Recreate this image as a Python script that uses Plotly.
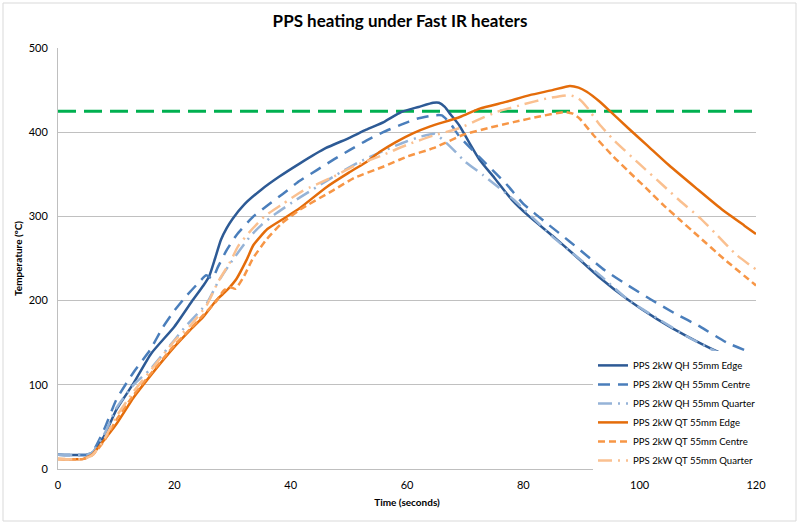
import plotly.graph_objects as go

# ---- data ----
qh_edge_t = [0, 5, 6, 8, 10, 13, 16, 20, 23, 25, 26, 27, 28, 29, 30, 32, 35, 38, 41.6, 46, 50, 53, 56, 59, 62, 64.5, 65.5, 66.5, 67.5, 69, 70.5, 72.5, 75, 78, 81, 85, 88.5, 93, 98, 103, 108, 113.5, 120]
qh_edge_v = [17, 17, 20, 40, 70, 102, 137, 169, 199, 218, 229, 250, 272, 286, 297, 314, 332, 347, 363, 381, 393, 403, 412, 424, 430, 435, 435, 430, 421, 408, 390, 367, 346, 320, 300, 277, 256, 228, 201, 178, 158, 139, 122]

qh_centre_t = [0, 5, 6, 8, 10, 13, 15.8, 18, 20, 22, 24, 25.5, 26.5, 27.5, 29, 30.7, 33.6, 36, 38.7, 41.5, 44.5, 47.5, 50.2, 53, 55.9, 59, 61.7, 64.5, 66, 67.5, 69, 72.5, 77, 80, 84, 88, 91.5, 94, 98, 102, 106, 110.4, 115, 120]
qh_centre_v = [17, 17, 21, 48, 82, 115, 141, 168, 188, 205, 220, 230, 226, 240, 260, 278, 300, 313, 327, 342, 355, 368, 379, 390, 400, 409, 416, 420, 420, 410, 395, 370, 339, 315, 292, 270, 250, 236, 218, 201, 185, 169, 150, 136]

qh_quarter_t = [0, 5, 6, 8, 10, 13, 15.8, 20, 22, 25.6, 27.5, 29.6, 33, 35, 37.6, 41, 44.5, 48, 51.9, 56, 59.9, 62.5, 64.8, 66, 68, 70, 73.1, 78.3, 81.7, 85, 89.2, 93.2, 98, 103, 108, 113, 120]
qh_quarter_v = [17, 17, 20, 42, 72, 100, 118, 153, 170, 197, 222, 244, 276, 290, 304, 320, 335, 350, 365, 378, 389, 395, 398, 392, 379, 365, 349, 320, 298, 276, 252, 230, 201, 179, 158, 140, 121]

qt_edge_t = [0, 4.4, 6, 8, 10.1, 13, 15.8, 20, 22.7, 25, 27.3, 29, 30.7, 32.4, 33.6, 36, 38.7, 41.6, 46.2, 50, 53.1, 55.4, 58, 61.1, 64, 69.1, 72.5, 77, 81.1, 85, 88, 89.5, 90.9, 93, 94.9, 98, 101.2, 105, 109.8, 114, 118, 120]
qt_edge_v = [12, 12, 18, 35, 54, 85, 110, 145, 165, 181, 201, 212, 226, 248, 266, 285, 297, 310, 335, 352, 365, 377, 388, 399, 407, 418, 428, 436, 444, 450, 455, 453, 448, 437, 425, 405, 385, 361, 333, 309, 289, 279]

qt_centre_t = [0, 4.4, 6, 8, 10, 13, 15.8, 20, 22.7, 25, 27.3, 28.5, 29.6, 30.5, 31.9, 33.5, 35.9, 38.5, 41.6, 47.3, 51, 55.9, 60, 64.5, 69.7, 74, 78.3, 83, 87.2, 88.5, 89.7, 92, 95.5, 98, 101.2, 104, 106.9, 110, 114.4, 120]
qt_centre_v = [12, 12, 17, 34, 58, 88, 112, 147, 166, 183, 200, 212, 216, 214, 228, 250, 273, 292, 308, 331, 346, 359, 371, 381, 397, 405, 412, 419, 424, 422, 416, 397, 371, 354, 333, 314, 296, 277, 250, 218]

qt_quarter_t = [0, 4.4, 6, 8, 10, 13, 15.8, 20, 22.7, 25.6, 27.5, 29.6, 31, 33, 35.5, 38.7, 42, 47.3, 51, 55.9, 60, 64.5, 69.1, 72, 75.4, 80, 84, 88, 89.5, 90.9, 93, 95.5, 100, 104, 107, 110.4, 113, 116.7, 120]
qt_quarter_v = [12, 12, 17, 36, 62, 92, 116, 152, 170, 195, 222, 246, 265, 282, 300, 315, 330, 347, 360, 373, 385, 396, 405, 414, 424, 433, 440, 444, 440, 430, 410, 391, 362, 337, 318, 298, 280, 254, 237]

target_t = [0, 120]
target_v = [425, 425]

x_ticks = [0, 20, 40, 60, 80, 100, 120]
y_ticks = [0, 100, 200, 300, 400, 500]

series = [
    ("PPS 2kW QH 55mm Edge", qh_edge_t, qh_edge_v, "#2D5A95", "solid"),
    ("PPS 2kW QH 55mm Centre", qh_centre_t, qh_centre_v, "#4A7EBB", "12px,8px"),
    ("PPS 2kW QH 55mm Quarter", qh_quarter_t, qh_quarter_v, "#95B3D7", "14px,6px,2px,6px"),
    ("PPS 2kW QT 55mm Edge", qt_edge_t, qt_edge_v, "#E46C0A", "solid"),
    ("PPS 2kW QT 55mm Centre", qt_centre_t, qt_centre_v, "#F79646", "7px,4px"),
    ("PPS 2kW QT 55mm Quarter", qt_quarter_t, qt_quarter_v, "#FAC090", "14px,6px,2px,6px"),
]

FONT = "Lato"
fig = go.Figure()

fig.add_trace(go.Scatter(x=target_t, y=target_v, mode="lines", showlegend=False,
                         line=dict(color="#00B050", width=3, dash="18px,8px"), hoverinfo="skip"))

for name, t, v, col, dash in series:
    fig.add_trace(go.Scatter(x=t, y=v, mode="lines", name=name,
                             line=dict(color=col, width=2.5, dash=dash, shape="spline", smoothing=0.5)))

fig.update_layout(
    width=800, height=525,
    margin=dict(l=58, r=44, t=48, b=56),
    paper_bgcolor="white", plot_bgcolor="white",
    font=dict(family=FONT, size=11, color="#000000"),
    title=dict(text="<b>PPS heating under Fast IR heaters</b>", x=0.5, xanchor="center",
               y=1 - 21 / 525, yanchor="middle", font=dict(size=17, family=FONT)),
    xaxis=dict(range=[0, 120], tickvals=x_ticks, showgrid=False, zeroline=False,
               showline=True, linecolor="#BFBFBF", linewidth=1,
               ticks="", tickfont=dict(size=11), ticklabelstandoff=6,
               title=dict(text="<b>Time (seconds)</b>", font=dict(size=10), standoff=8)),
    yaxis=dict(range=[0, 500], tickvals=y_ticks, showgrid=True, gridcolor="#C0C0C0", gridwidth=1,
               zeroline=False, showline=True, linecolor="#BFBFBF", linewidth=1,
               ticks="", tickfont=dict(size=11), ticklabelstandoff=7,
               title=dict(text="<b>Temperature (ºC)</b>", font=dict(size=10), standoff=4)),
    legend=dict(x=(593 - 58) / 698, y=-0.014, xanchor="left", yanchor="bottom",
                bgcolor="white", borderwidth=0, font=dict(size=9.6, family=FONT),
                tracegroupgap=0, itemwidth=30),
    shapes=[dict(type="rect", xref="paper", yref="paper",
                 x0=(3 - 58) / 698, x1=(796 - 58) / 698,
                 y0=(469 - 521) / 421, y1=(469 - 3) / 421,
                 line=dict(color="#D9D9D9", width=1), fillcolor="rgba(0,0,0,0)", layer="below")],
)

fig.write_html("out.html", config={"displayModeBar": False},
               post_script="document.body.style.margin='0';")
